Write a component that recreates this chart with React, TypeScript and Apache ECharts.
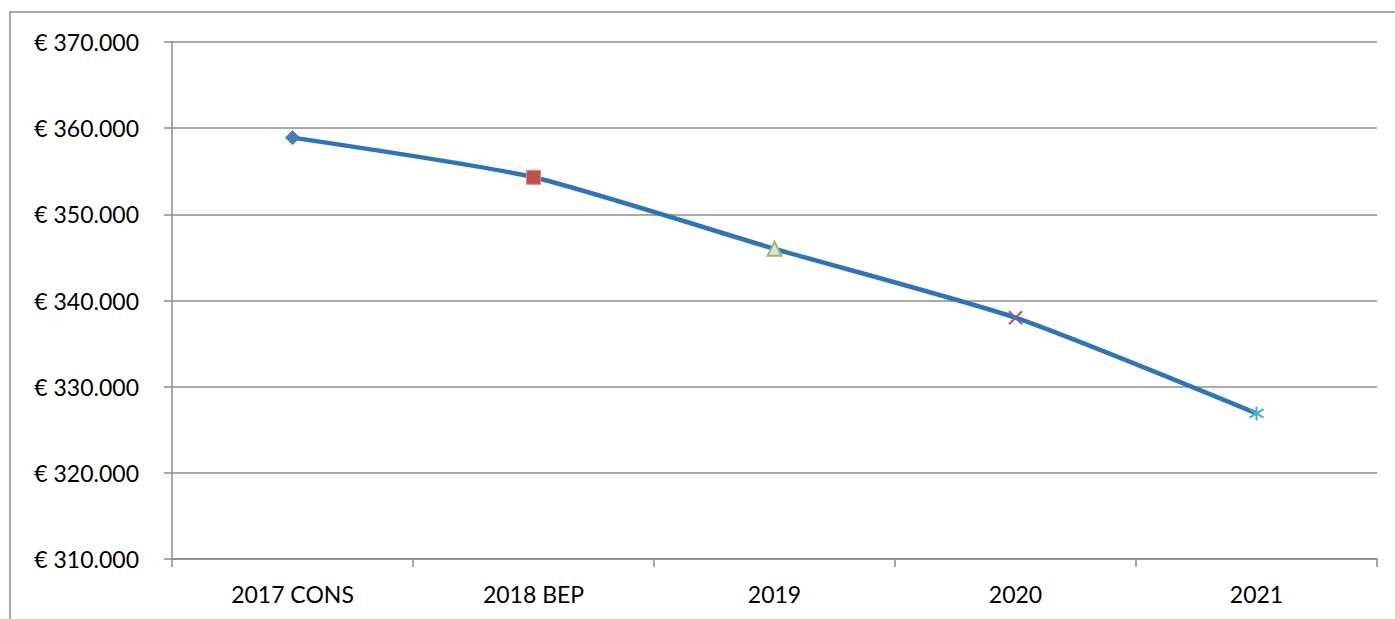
import React, { useEffect, useRef } from "react";
import * as echarts from "echarts";

const categories = ["2017 CONS", "2018 BEP", "2019", "2020", "2021"];
const values = [358900, 354300, 346000, 338000, 326900];
const yTicks = { min: 310000, max: 370000, interval: 10000 };

const markerStyles = [
  { symbol: "diamond", symbolSize: 14, itemStyle: { color: "#4a7ebb", borderColor: "#4a7ebb", borderWidth: 1 } },
  { symbol: "rect", symbolSize: 14, itemStyle: { color: "#c0504d", borderColor: "#d08a88", borderWidth: 1 } },
  { symbol: "triangle", symbolSize: 14, itemStyle: { color: "#d6e0f0", borderColor: "#9bbb59", borderWidth: 2 } },
  { symbol: "path://M0,0L10,10M10,0L0,10", symbolSize: 13, itemStyle: { color: "none", borderColor: "#8064a2", borderWidth: 2 } },
  { symbol: "path://M5,0L5,10M0,2L10,8M0,8L10,2", symbolSize: 14, itemStyle: { color: "none", borderColor: "#4bacc6", borderWidth: 2 } },
];

function fmt(v: number) {
  const s = Math.round(v).toString().replace(/\B(?=(\d{3})+(?!\d))/g, ".");
  return "€ " + s;
}

export default function App() {
  const ref = useRef<HTMLDivElement>(null);
  useEffect(() => {
    const chart = echarts.init(ref.current!, null, { renderer: "svg" });
    chart.setOption({
      animation: false,
      backgroundColor: "#ffffff",
      textStyle: { fontFamily: "Lato" },
      graphic: [
        {
          type: "rect",
          shape: { x: 10, y: 12, width: 1500, height: 700 },
          style: { fill: "none", stroke: "#8a8a8a", lineWidth: 1.5 },
          silent: true,
        },
      ],
      grid: { left: 172, top: 42, right: 18, bottom: 60, containLabel: false },
      xAxis: {
        type: "category",
        data: categories,
        boundaryGap: true,
        axisLine: { show: true, lineStyle: { color: "#8c8c8c", width: 1.5 } },
        axisTick: { show: true, length: 8, lineStyle: { color: "#8c8c8c", width: 1.5 } },
        axisLabel: { color: "#000", fontSize: 23, margin: 23, fontFamily: "Lato" },
        splitLine: { show: false },
      },
      yAxis: {
        type: "value",
        min: yTicks.min,
        max: yTicks.max,
        interval: yTicks.interval,
        axisLine: { show: true, lineStyle: { color: "#8c8c8c", width: 1.5 } },
        axisTick: { show: true, length: 8, lineStyle: { color: "#8c8c8c", width: 1.5 } },
        axisLabel: { color: "#000", fontSize: 23, margin: 33, formatter: (v: number) => fmt(v), fontFamily: "Lato" },
        splitLine: { show: true, lineStyle: { color: "#8c8c8c", width: 1.5 } },
      },
      series: [
        {
          type: "line",
          smooth: 0.2,
          data: values.map((v, i) => ({ value: v, ...markerStyles[i] })),
          lineStyle: { color: "#2e75b6", width: 4.5 },
          showAllSymbol: true,
          z: 3,
        },
      ],
    });
    return () => chart.dispose();
  }, []);
  return (
    <div
      ref={ref}
      style={{ position: "absolute", left: 0, top: 0, width: 1395, height: 619 }}
    />
  );
}
